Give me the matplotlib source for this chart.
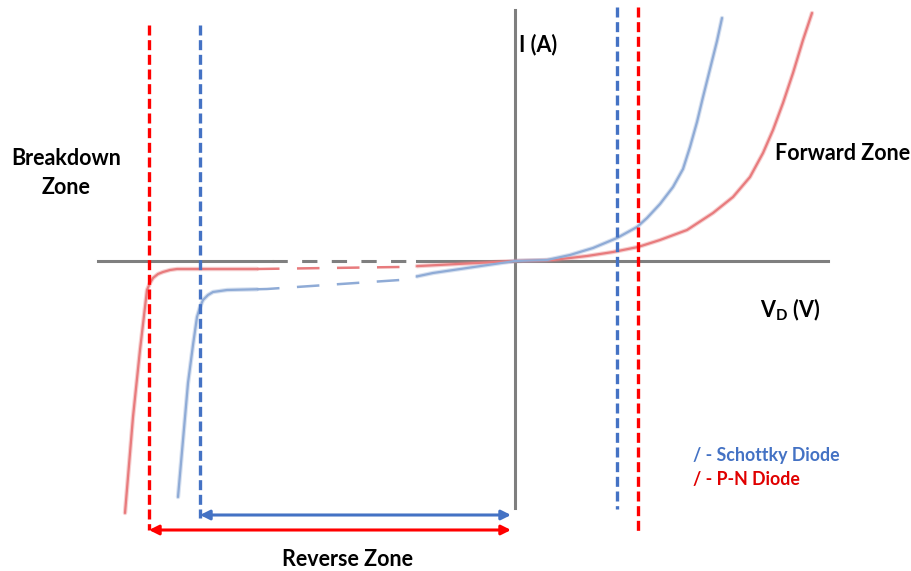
import numpy as np
import matplotlib
matplotlib.use("Agg")
import matplotlib.pyplot as plt

plt.rcParams['font.family'] = ['Lato', 'DejaVu Sans']
plt.rcParams['mathtext.fontset'] = 'custom'
plt.rcParams['mathtext.rm'] = 'Lato:bold'
plt.rcParams['mathtext.it'] = 'Lato:bold'
plt.rcParams['mathtext.bf'] = 'Lato:bold'

# I-V curves (schematic units, origin at axes crossing)
pn_v = [-390, -382, -375, -368, -365, -362, -357, -352, -345, -338, -258, -115, 0,
        38, 72, 98, 123, 145, 172, 198, 218, 235, 248, 258, 268, 278, 288, 297]
pn_i = [-252, -156, -89, -29, -22, -17, -13, -11, -9, -8, -8, -6, 0,
        1, 5, 9, 14, 21, 31, 48, 64, 84, 108, 131, 158, 188, 221, 248]

sch_v = [-337, -332, -327, -322, -318, -315, -312, -307, -302, -295, -288, -248, -115, -82, -48, 0,
         32, 55, 78, 102, 122, 132, 145, 158, 168, 175, 182, 188, 195, 202, 207]
sch_i = [-236, -179, -122, -84, -56, -46, -39, -34, -31, -30, -29, -28, -19, -12, -7, 0,
         1, 6, 13, 23, 34, 43, 57, 74, 92, 114, 139, 164, 192, 220, 243]

# dashed (compressed) stretch of the reverse region
gap_start, gap_end = -258, -98

# zone boundaries
pn_breakdown, sch_breakdown = -366, -315
sch_knee, pn_knee = 102, 123

RED = '#ff0000'
BLUE = '#4472c4'
RED_CURVE = '#e87b7d'
BLUE_CURVE = '#8fabd6'
GREY = '#7f7f7f'


def split_curve(v, i):
    v = np.array(v, float)
    i = np.array(i, float)
    a = np.interp(gap_start, v, i)
    b = np.interp(gap_end, v, i)
    inner = (v > gap_start) & (v < gap_end)
    left = (np.r_[v[v < gap_start], gap_start], np.r_[i[v < gap_start], a])
    mid = (np.r_[gap_start, v[inner], gap_end], np.r_[a, i[inner], b])
    right = (np.r_[gap_end, v[v > gap_end]], np.r_[b, i[v > gap_end]])
    return left, mid, right


def draw_curve(ax, v, i, color):
    left, mid, right = split_curve(v, i)
    for seg in (left, right):
        ax.plot(*seg, color=color, lw=3.2, alpha=0.35, solid_capstyle='round',
                solid_joinstyle='round', zorder=3)
        ax.plot(*seg, color=color, lw=1.6, solid_capstyle='round',
                solid_joinstyle='round', zorder=4)
    ax.plot(*mid, color=color, lw=1.8, dashes=(9, 7), zorder=4)


fig = plt.figure(figsize=(9.11, 5.71), dpi=100)
ax = fig.add_axes([0, 0, 1, 1])
ax.set_xlim(-515, 396)
ax.set_ylim(-310, 261)
ax.axis('off')

# axes
ax.plot([-417, gap_start + 15], [0, 0], color=GREY, lw=2.2, zorder=2)
ax.plot([gap_start + 15, gap_end], [0, 0], color=GREY, lw=2.2, dashes=(5, 4.7), zorder=2)
ax.plot([gap_end, 313], [0, 0], color=GREY, lw=2.2, zorder=2)
ax.plot([0, 0], [-247, 251], color=GREY, lw=2.2, zorder=2)

draw_curve(ax, pn_v, pn_i, RED_CURVE)
draw_curve(ax, sch_v, sch_i, BLUE_CURVE)

# zone boundaries
ax.plot([pn_breakdown] * 2, [236, -269], color=RED, lw=2.4, dashes=(3, 1.4), zorder=5)
ax.plot([sch_breakdown] * 2, [236, -257], color=BLUE, lw=2.4, dashes=(3, 1.4), zorder=5)
ax.plot([sch_knee] * 2, [254, -248], color=BLUE, lw=2.4, dashes=(3, 1.4), zorder=5)
ax.plot([pn_knee] * 2, [254, -270], color=RED, lw=2.4, dashes=(3, 1.4), zorder=5)

# reverse zone arrows
ax.annotate('', xy=(-4, -254), xytext=(sch_breakdown, -254),
            arrowprops=dict(arrowstyle='<|-|>', color=BLUE, lw=2.2, mutation_scale=14,
                            shrinkA=0, shrinkB=0))
ax.annotate('', xy=(-4, -269), xytext=(pn_breakdown, -269),
            arrowprops=dict(arrowstyle='<|-|>', color=RED, lw=2.2, mutation_scale=14,
                            shrinkA=0, shrinkB=0))

# labels
bold = dict(fontweight='bold', color='black', fontsize=15.5)
ax.text(4, 216, 'I (A)', ha='left', va='center', **bold)
ax.text(-449, 88, 'Breakdown\nZone', ha='center', va='center', linespacing=1.45, **bold)
ax.text(260, 108, 'Forward Zone', ha='left', va='center', **bold)
ax.text(245, -49, r'$\mathrm{V_D}$ (V)', ha='left', va='center', **bold)
ax.text(-168, -299, 'Reverse Zone', ha='center', va='center', **bold)

ax.text(178, -194, '/ - Schottky Diode', ha='left', va='center', color=BLUE,
        fontsize=12.8, fontweight='bold')
ax.text(178, -219, '/ - P-N Diode', ha='left', va='center', color='#e00000',
        fontsize=12.8, fontweight='bold')

plt.savefig('out.png', dpi=100)
